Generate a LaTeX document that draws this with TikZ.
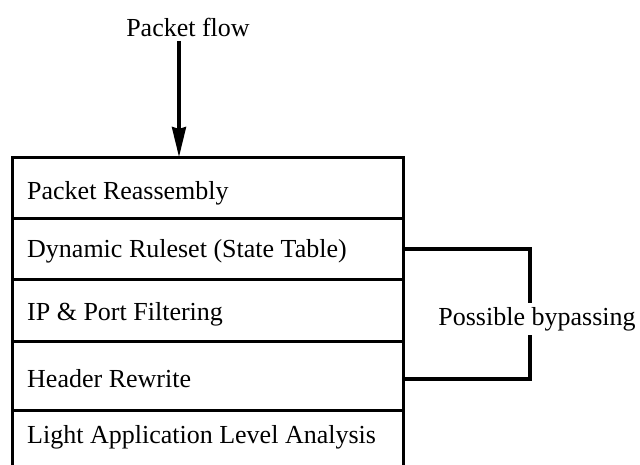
\documentclass[tikz,border=0pt]{standalone}
\usepackage{fontspec}
\setmainfont{Liberation Serif}
\usetikzlibrary{arrows.meta}
\tikzset{
  frame/.style={line width=3pt, line cap=rect},
  divider/.style={line width=3pt},
  rowtext/.style={anchor=west, inner sep=0pt, font=\fontsize{26}{30}\selectfont},
  bracketline/.style={line width=3.2pt},
  flow/.style={line width=3.4pt, -{Stealth[length=30pt,width=14pt,inset=2pt]}},
  lbl/.style={inner sep=0pt, font=\fontsize{26}{30}\selectfont}
}
\begin{document}
\begin{tikzpicture}[x=1pt,y=-1pt]
\useasboundingbox (0,0) rectangle (640,465);
% frame
\coordinate (tl) at (12.5,158);
\coordinate (tr) at (403,158);
\coordinate (bl) at (12.5,467);
\coordinate (br) at (403,467);
\draw[frame] (bl) -- (tl) -- (tr) -- (br);
\foreach \y in {219,279,341,410} \draw[divider] (12.5,\y) -- (403,\y);
% rows
\node[rowtext] (r1) at (27,193) {Packet Reassembly};
\node[rowtext] (r2) at (27,251) {Dynamic Ruleset (State Table)};
\node[rowtext] (r3) at (27,314) {IP \& Port Filtering};
\node[rowtext] (r4) at (27,379) {Header Rewrite};
\node[rowtext] (r5) at (27,437) {Light Application Level Analysis};
% packet flow
\node[lbl] (pf) at (188,27) {Packet flow};
\coordinate (pfs) at (179,41);
\coordinate (pfe) at (179,157);
\draw[flow] (pfs) -- (pfe);
% bracket
\coordinate (b1) at (403,249);
\coordinate (b2) at (403,379);
\coordinate (c1) at (530,249);
\coordinate (c2) at (530,379);
\draw[bracketline] (b1) -- (c1) -- (c2) -- (b2);
\node[lbl, fill=white, inner ysep=4pt, inner xsep=1pt] (bp) at (537,319) {Possible bypassing};
\end{tikzpicture}
\end{document}
